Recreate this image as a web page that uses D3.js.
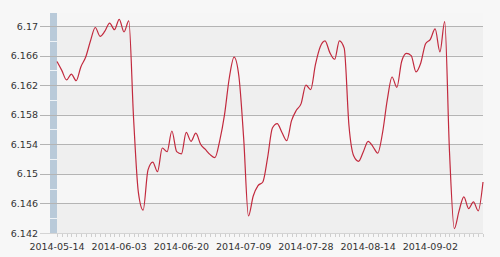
<!DOCTYPE html>
<html>
<head>
<meta charset="utf-8">
<script src="https://cdn.jsdelivr.net/npm/d3@7"></script>
<style>
  html, body { margin: 0; padding: 0; background: #f7f7f7; }
  svg { display: block; font-family: "DejaVu Sans", Verdana, sans-serif; }
  .ylab, .xlab { font-size: 9.5px; fill: #333; }
</style>
</head>
<body>
<div class="chart"></div>
<script>
// trading days, 2014-05-14 .. 2014-09-18
const dates = [
  "2014-05-14","2014-05-15","2014-05-16","2014-05-19","2014-05-20","2014-05-21","2014-05-22","2014-05-23","2014-05-26","2014-05-27",
  "2014-05-28","2014-05-29","2014-05-30","2014-06-03","2014-06-04","2014-06-05","2014-06-06","2014-06-09","2014-06-10","2014-06-11",
  "2014-06-12","2014-06-13","2014-06-16","2014-06-17","2014-06-18","2014-06-19","2014-06-20","2014-06-23","2014-06-24","2014-06-25",
  "2014-06-26","2014-06-27","2014-06-30","2014-07-01","2014-07-02","2014-07-03","2014-07-04","2014-07-07","2014-07-08","2014-07-09",
  "2014-07-10","2014-07-11","2014-07-14","2014-07-15","2014-07-16","2014-07-17","2014-07-18","2014-07-21","2014-07-22","2014-07-23",
  "2014-07-24","2014-07-25","2014-07-28","2014-07-29","2014-07-30","2014-07-31","2014-08-01","2014-08-04","2014-08-05","2014-08-06",
  "2014-08-07","2014-08-08","2014-08-11","2014-08-12","2014-08-13","2014-08-14","2014-08-15","2014-08-18","2014-08-19","2014-08-20",
  "2014-08-21","2014-08-22","2014-08-25","2014-08-26","2014-08-27","2014-08-28","2014-08-29","2014-09-01","2014-09-02","2014-09-03",
  "2014-09-04","2014-09-05","2014-09-09","2014-09-10","2014-09-11","2014-09-12","2014-09-15","2014-09-16","2014-09-17","2014-09-18"
];

const rates = [
  6.1652, 6.1640, 6.1627, 6.1635, 6.1626, 6.1645, 6.1658, 6.1680, 6.1698, 6.1686,
  6.1693, 6.1704, 6.1695, 6.1709, 6.1692, 6.1707, 6.1575, 6.1475, 6.1451, 6.1505,
  6.1516, 6.1503, 6.1535, 6.1530, 6.1558, 6.1530, 6.1527, 6.1556, 6.1544, 6.1555,
  6.1540, 6.1533, 6.1526, 6.1522, 6.1545, 6.1580, 6.1630, 6.1658, 6.1632, 6.1548,
  6.1443, 6.1470, 6.1484, 6.1489, 6.1522, 6.1562, 6.1568, 6.1556, 6.1545, 6.1572,
  6.1586, 6.1595, 6.1620, 6.1614, 6.1648, 6.1672, 6.1680, 6.1664, 6.1655, 6.1680,
  6.1670, 6.1565, 6.1524, 6.1517, 6.1530, 6.1544, 6.1537, 6.1528, 6.1555, 6.1600,
  6.1631, 6.1617, 6.1652, 6.1663, 6.1660, 6.1638, 6.1650, 6.1676, 6.1682, 6.1696,
  6.1665, 6.1706, 6.1530, 6.1426, 6.1450, 6.1469, 6.1453, 6.1462, 6.1450, 6.1489
];

const yTicks = ["6.142", "6.146", "6.15", "6.154", "6.158", "6.162", "6.166", "6.17"];
const xLabels = ["2014-05-14", "2014-06-03", "2014-06-20", "2014-07-09", "2014-07-28", "2014-08-14", "2014-09-02"];

const width = 500, height = 257;
const plotL = 57, plotR = 483, plotT = 13, plotB = 233;

const svg = d3.select(".chart").append("svg")
    .attr("width", width)
    .attr("height", height);

svg.append("rect").attr("width", width).attr("height", height).attr("fill", "#f7f7f7");

const x = d3.scalePoint()
    .domain(dates)
    .range([plotL, plotR]);

const y = d3.scaleLinear()
    .domain([6.142, 6.17])
    .range([plotB, 26]);

const yTop = y.invert(plotT);
const tickVals = yTicks.map(Number);

// --- alternating plot bands
const bandEdges = tickVals.concat([yTop]);
svg.append("g").selectAll("rect")
    .data(d3.range(bandEdges.length - 1))
    .enter().append("rect")
    .attr("x", plotL)
    .attr("width", plotR - plotL)
    .attr("y", function(i) { return y(bandEdges[i + 1]); })
    .attr("height", function(i) { return y(bandEdges[i]) - y(bandEdges[i + 1]); })
    .attr("fill", function(i) { return i % 2 === 0 ? "#efefef" : "#f6f6f6"; });

// --- axis bar
svg.append("rect")
    .attr("x", 50).attr("y", plotT)
    .attr("width", 7).attr("height", plotB - plotT)
    .attr("fill", "#b9cad9");

// minor ticks on the bar
const minor = tickVals.slice(0, -1).map(function(v, i) { return (v + tickVals[i + 1]) / 2; });
svg.append("g").selectAll("line")
    .data(minor)
    .enter().append("line")
    .attr("x1", 50).attr("x2", 57)
    .attr("y1", function(d) { return Math.round(y(d)) + 0.5; })
    .attr("y2", function(d) { return Math.round(y(d)) + 0.5; })
    .attr("stroke", "#eef3f7");

// --- grid lines
svg.append("g").selectAll("line")
    .data(tickVals.slice(1))
    .enter().append("line")
    .attr("x1", 40).attr("x2", plotR)
    .attr("y1", function(d) { return Math.round(y(d)) + 0.5; })
    .attr("y2", function(d) { return Math.round(y(d)) + 0.5; })
    .attr("stroke", "#b4b4b4")
    .attr("stroke-width", 1.2);

// bottom line
svg.append("line")
    .attr("x1", 40).attr("x2", plotR)
    .attr("y1", plotB + 0.5).attr("y2", plotB + 0.5)
    .attr("stroke", "#d4d4d4");

// --- y labels
svg.append("g").selectAll("text")
    .data(yTicks)
    .enter().append("text")
    .attr("class", "ylab")
    .attr("x", 38)
    .attr("y", function(d) { return y(+d) + 3.5; })
    .attr("text-anchor", "end")
    .text(function(d) { return d; });

// --- x minor ticks
svg.append("g").selectAll("line")
    .data(dates)
    .enter().append("line")
    .attr("x1", function(d) { return Math.round(x(d)) + 0.5; })
    .attr("x2", function(d) { return Math.round(x(d)) + 0.5; })
    .attr("y1", plotB + 1).attr("y2", plotB + 4)
    .attr("stroke", "#cfcfcf");

// --- x labels
svg.append("g").selectAll("text")
    .data(xLabels)
    .enter().append("text")
    .attr("class", "xlab")
    .attr("x", function(d) { return x(d); })
    .attr("y", 250)
    .attr("text-anchor", "middle")
    .text(function(d) { return d; });

// --- line
const line = d3.line()
    .x(function(d, i) { return x(dates[i]); })
    .y(function(d) { return y(d); })
    .curve(d3.curveMonotoneX);

svg.append("path")
    .datum(rates)
    .attr("d", line)
    .attr("fill", "none")
    .attr("stroke", "#c22a3e")
    .attr("stroke-width", 1.2);
</script>
</body>
</html>
